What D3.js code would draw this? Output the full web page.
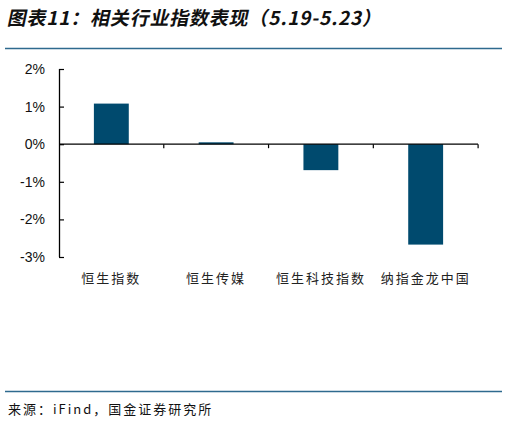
<!DOCTYPE html>
<html>
<head>
<meta charset="utf-8">
<script src="https://cdn.jsdelivr.net/npm/d3@7"></script>
<style>
  body { margin: 0; background: #fff; }
  svg { display: block; }
</style>
</head>
<body>
<svg id="chart"></svg>
<script>
var titleText = "图表11：相关行业指数表现（5.19-5.23）";
var sourceText = "来源：iFind，国金证券研究所";
var categories = ["恒生指数", "恒生传媒", "恒生科技指数", "纳指金龙中国"];
var changes = [1.08, 0.05, -0.69, -2.67];
var yTicks = [2, 1, 0, -1, -2, -3];

var setup = {
  width: 507,
  height: 422,
  left: 59,
  right: 478,
  top: 69,
  bottom: 257
};

var svg = d3.select("#chart")
  .attr("width", setup.width)
  .attr("height", setup.height);

var cjk = "'Noto Sans CJK SC', sans-serif";

// title + rule
svg.append("text")
  .attr("x", 8)
  .attr("y", 25)
  .attr("font-family", cjk)
  .attr("font-size", 19)
  .attr("font-weight", "bold")
  .attr("letter-spacing", 0.8)
  .attr("transform", "translate(4,0) skewX(-12)")
  .attr("fill", "#111")
  .text(titleText);

svg.append("line")
  .attr("x1", 5).attr("x2", 502)
  .attr("y1", 48.5).attr("y2", 48.5)
  .attr("stroke", "#2e6a8e")
  .attr("stroke-width", 1.5);

var x = d3.scaleBand()
  .domain(categories)
  .range([setup.left, setup.right])
  .paddingInner(0.667)
  .paddingOuter(0.333);

var y = d3.scaleLinear()
  .domain([-3, 2])
  .range([setup.bottom, setup.top]);

// bars
svg.append("g").selectAll("rect")
  .data(changes)
  .enter().append("rect")
  .attr("x", (d, i) => x(categories[i]))
  .attr("width", x.bandwidth())
  .attr("y", d => y(Math.max(d, 0)))
  .attr("height", d => Math.abs(y(d) - y(0)))
  .attr("fill", "#004a6e");

// y axis, ticks pointing inward
var yAxis = d3.axisRight(y)
  .tickValues(yTicks)
  .tickSize(5)
  .tickFormat(d => d + "%");

var gy = svg.append("g")
  .attr("transform", "translate(" + setup.left + ",0)")
  .call(yAxis);
gy.select(".domain").attr("stroke", "#000").attr("stroke-width", 1.3)
  .attr("d", "M0.5," + y(-3) + "V" + y(2));
gy.selectAll(".tick line").attr("stroke", "#000").attr("stroke-width", 1.2);
gy.selectAll(".tick text")
  .attr("x", -14)
  .attr("text-anchor", "end")
  .attr("font-family", "'Liberation Sans', Arial, sans-serif")
  .attr("font-size", 14)
  .attr("fill", "#111");

// x axis on the zero line, ticks at category boundaries
var bounds = d3.range(categories.length + 1)
  .map(i => setup.left + i * x.step());

var gx = svg.append("g");
gx.append("line")
  .attr("x1", setup.left).attr("x2", setup.right)
  .attr("y1", y(0)).attr("y2", y(0))
  .attr("stroke", "#000")
  .attr("stroke-width", 1.3);
gx.selectAll(".bt")
  .data(bounds.slice(1))
  .enter().append("line")
  .attr("x1", d => d).attr("x2", d => d)
  .attr("y1", y(0)).attr("y2", y(0) + 4)
  .attr("stroke", "#000")
  .attr("stroke-width", 1.2);

// category labels
svg.append("g").selectAll("text")
  .data(categories)
  .enter().append("text")
  .attr("x", d => x(d) + x.bandwidth() / 2)
  .attr("y", 283)
  .attr("text-anchor", "middle")
  .attr("font-family", cjk)
  .attr("font-size", 13)
  .attr("letter-spacing", 2)
  .attr("fill", "#222")
  .text(d => d);

// footer
svg.append("line")
  .attr("x1", 5).attr("x2", 502)
  .attr("y1", 391.5).attr("y2", 391.5)
  .attr("stroke", "#2e6a8e")
  .attr("stroke-width", 1.5);

svg.append("text")
  .attr("x", 8)
  .attr("y", 414)
  .attr("font-family", cjk)
  .attr("font-size", 13)
  .attr("letter-spacing", 2)
  .attr("fill", "#111")
  .text(sourceText);
</script>
</body>
</html>
